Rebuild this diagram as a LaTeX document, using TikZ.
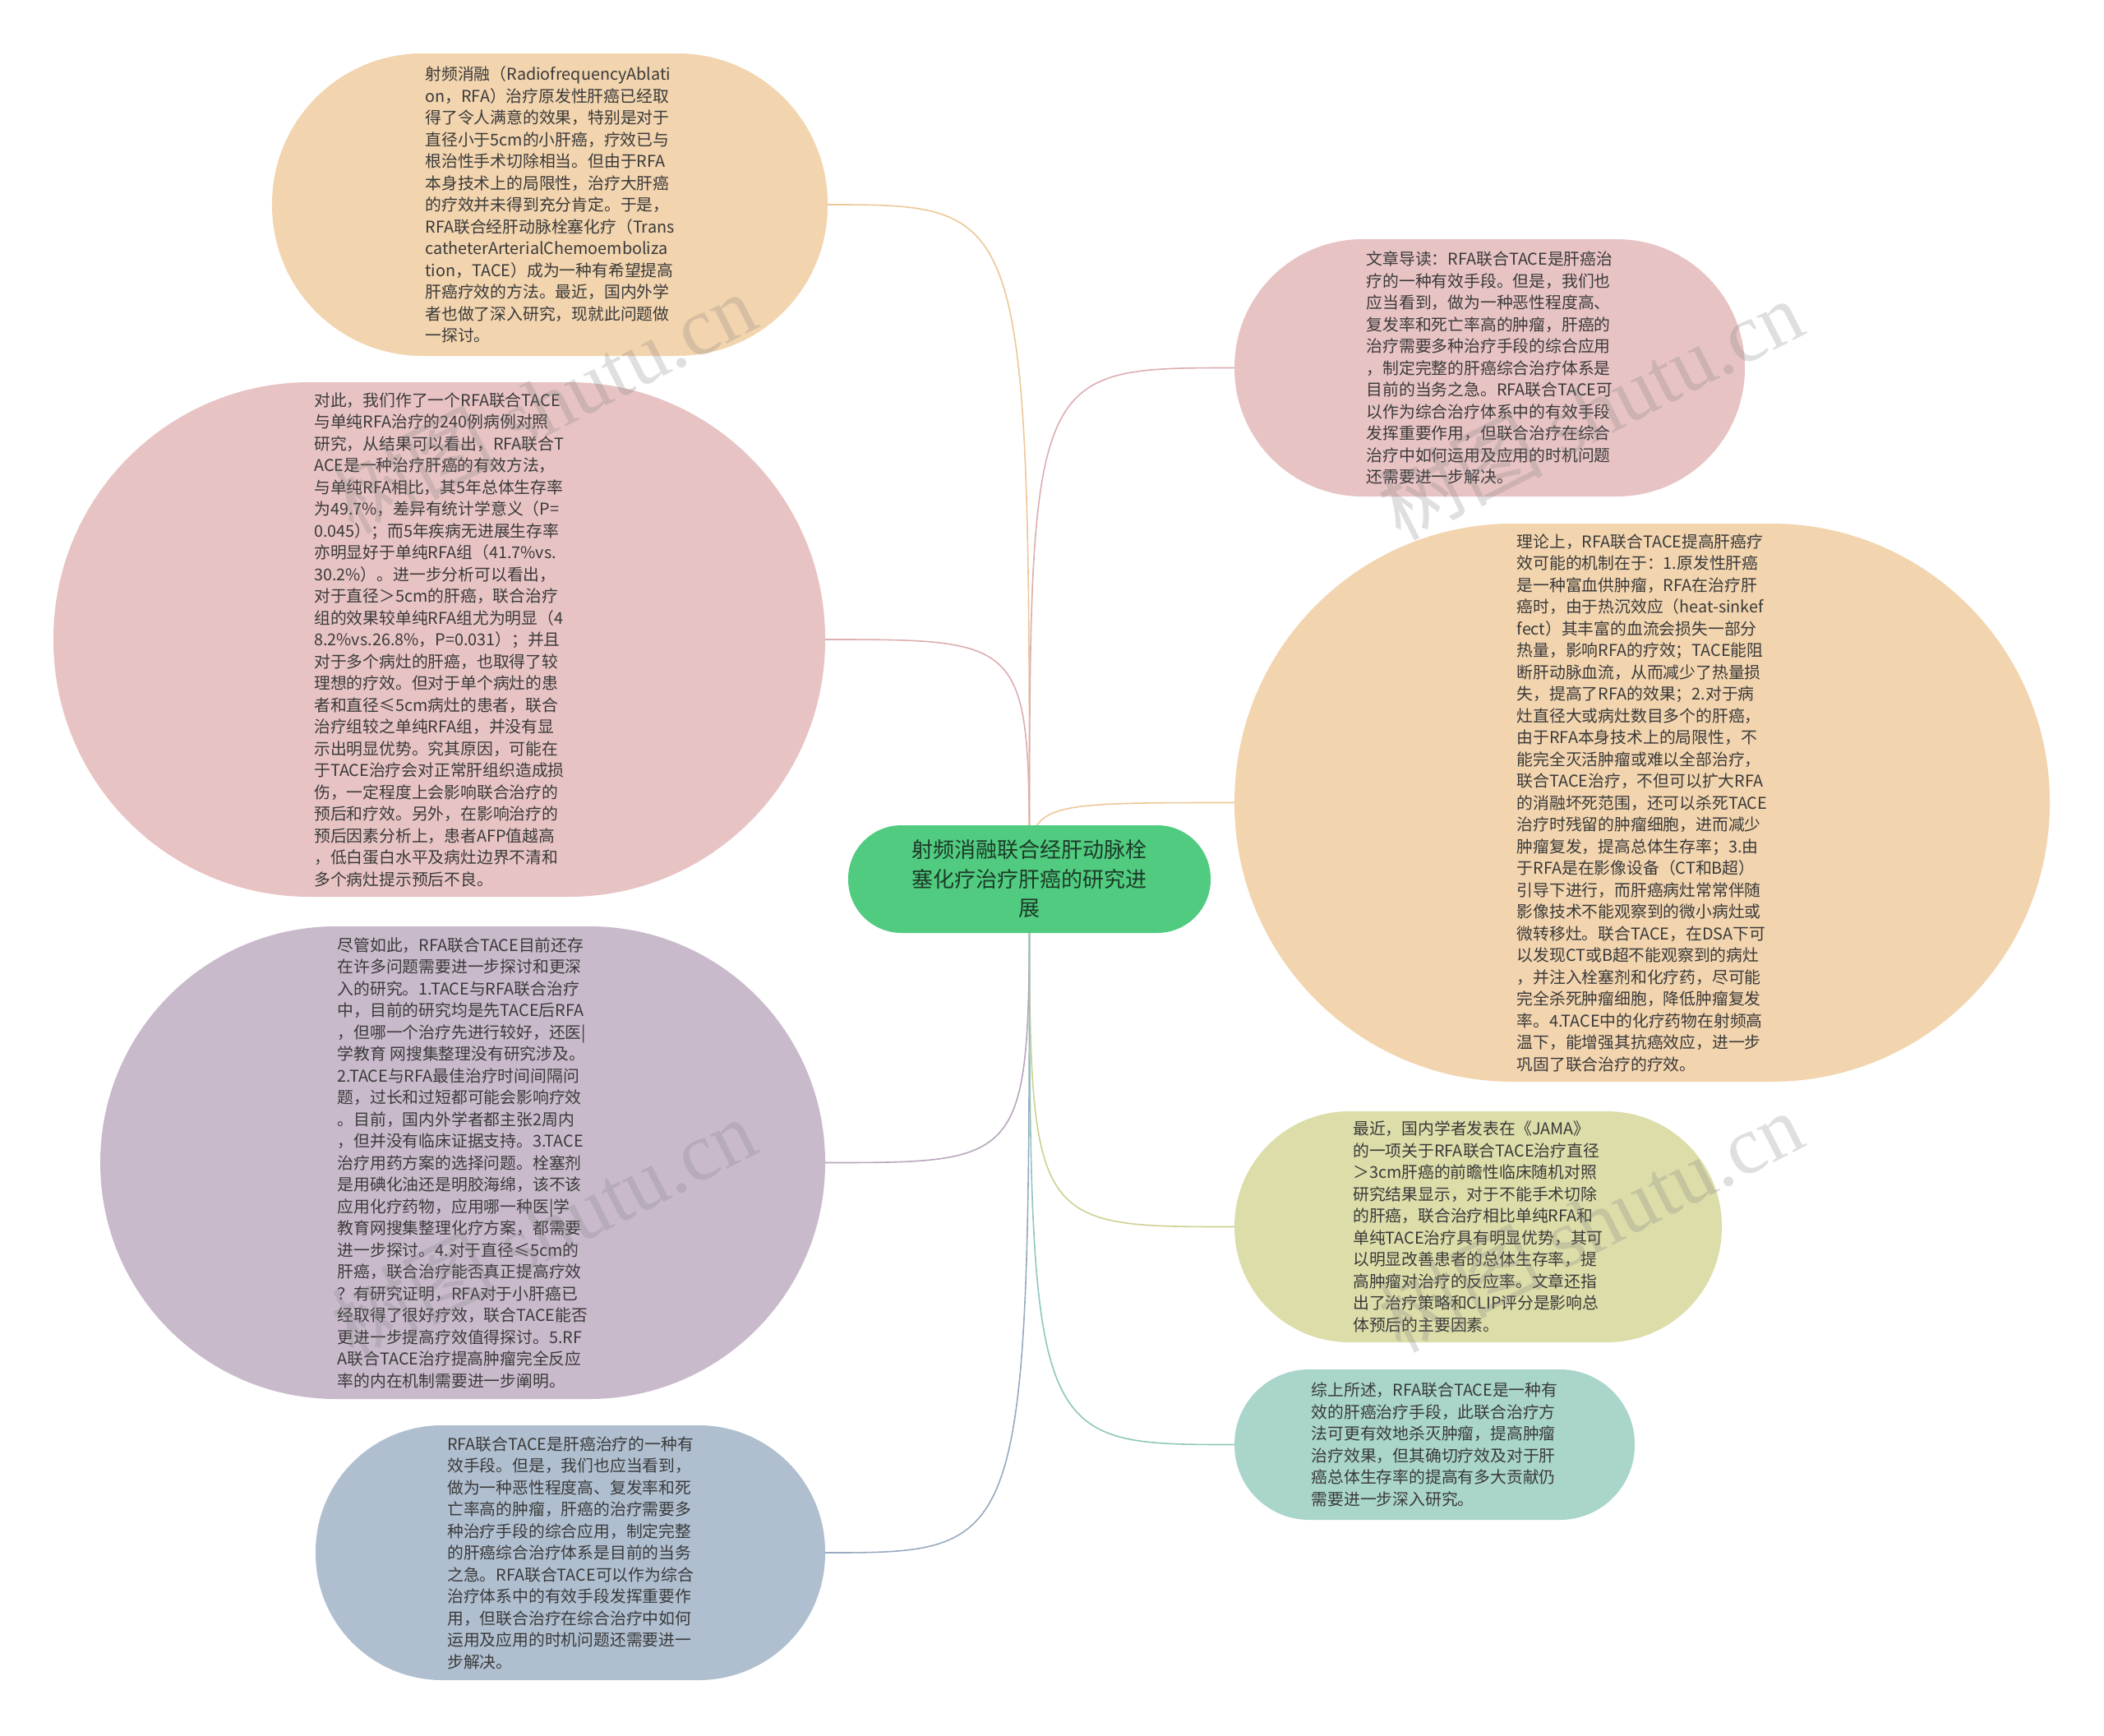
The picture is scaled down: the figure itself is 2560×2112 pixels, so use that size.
\documentclass[tikz,border=0pt]{standalone}
\usepackage{fontspec}
\setmainfont{Noto Sans CJK SC}
\newfontfamily\wmserif{Liberation Serif}
\newfontfamily\wmcjk{Noto Sans CJK SC}
\usetikzlibrary{backgrounds}
\definecolor{cOrange}{HTML}{F2D4AE}
\definecolor{cPink}{HTML}{E8C3C4}
\definecolor{cPurple}{HTML}{C9BACB}
\definecolor{cBlue}{HTML}{B0BFD0}
\definecolor{cGreen}{HTML}{50CB80}
\definecolor{cYellow}{HTML}{DCDDA9}
\definecolor{cTeal}{HTML}{A9D5CB}
\definecolor{eOrange}{HTML}{EDC898}
\definecolor{ePink}{HTML}{DDAEB0}
\definecolor{ePurple}{HTML}{B9A6BC}
\definecolor{eBlue}{HTML}{98AAC0}
\definecolor{eYellow}{HTML}{CFD092}
\definecolor{eTeal}{HTML}{8FC8BB}
\definecolor{txt}{HTML}{3A3A3A}
\definecolor{ctxt}{HTML}{1D3A27}
\tikzset{
  bubble/.style={fill=#1, draw=none, inner sep=0pt, align=left, text=txt,
    font=\fontsize{19.8}{26.5}\selectfont},
  rootbox/.style={fill=cGreen, draw=none, inner sep=0pt, align=center, text=ctxt,
    font=\fontsize{26}{35.5}\selectfont},
  link/.style={draw=#1, line width=1.6pt},
  wmark/.style={text=gray, opacity=0.25, rotate=27, font=\fontsize{100}{100}\selectfont}
}
\begin{document}
\begin{tikzpicture}[x=1pt,y=-1pt]
\useasboundingbox (0,0) rectangle (2560,2112);

\node[rootbox, minimum width=441pt, minimum height=131pt, rounded corners=65pt] (C) at (1252.5,1069.5)
{射频消融联合经肝动脉栓\\塞化疗治疗肝癌的研究进\\展};

\node[bubble=cOrange, minimum width=676pt, minimum height=368pt, rounded corners=183pt] (TL) at (669,249)
{射频消融（RadiofrequencyAblati\\on，RFA）治疗原发性肝癌已经取\\得了令人满意的效果，特别是对于\\直径小于5cm的小肝癌，疗效已与\\根治性手术切除相当。但由于RFA\\本身技术上的局限性，治疗大肝癌\\的疗效并未得到充分肯定。于是，\\RFA联合经肝动脉栓塞化疗（Trans\\catheterArterialChemoemboliza\\tion，TACE）成为一种有希望提高\\肝癌疗效的方法。最近，国内外学\\者也做了深入研究，现就此问题做\\一探讨。};

\node[bubble=cPink, minimum width=939pt, minimum height=626pt, rounded corners=312pt] (LP) at (534.5,778)
{对此，我们作了一个RFA联合TACE\\与单纯RFA治疗的240例病例对照\\研究，从结果可以看出，RFA联合T\\ACE是一种治疗肝癌的有效方法，\\与单纯RFA相比，其5年总体生存率\\为49.7\%，差异有统计学意义（P=\\0.045）；而5年疾病无进展生存率\\亦明显好于单纯RFA组（41.7\%vs.\\30.2\%）。进一步分析可以看出，\\对于直径＞5cm的肝癌，联合治疗\\组的效果较单纯RFA组尤为明显（4\\8.2\%vs.26.8\%，P=0.031）；并且\\对于多个病灶的肝癌，也取得了较\\理想的疗效。但对于单个病灶的患\\者和直径≤5cm病灶的患者，联合\\治疗组较之单纯RFA组，并没有显\\示出明显优势。究其原因，可能在\\于TACE治疗会对正常肝组织造成损\\伤，一定程度上会影响联合治疗的\\预后和疗效。另外，在影响治疗的\\预后因素分析上，患者AFP值越高\\，低白蛋白水平及病灶边界不清和\\多个病灶提示预后不良。};

\node[bubble=cPurple, minimum width=882pt, minimum height=575pt, rounded corners=287pt] (PU) at (563,1414.5)
{尽管如此，RFA联合TACE目前还存\\在许多问题需要进一步探讨和更深\\入的研究。1.TACE与RFA联合治疗\\中，目前的研究均是先TACE后RFA\\，但哪一个治疗先进行较好，还医|\\学教育 网搜集整理没有研究涉及。\\2.TACE与RFA最佳治疗时间间隔问\\题，过长和过短都可能会影响疗效\\。目前，国内外学者都主张2周内\\，但并没有临床证据支持。3.TACE\\治疗用药方案的选择问题。栓塞剂\\是用碘化油还是明胶海绵，该不该\\应用化疗药物，应用哪一种医|学\\教育网搜集整理化疗方案，都需要\\进一步探讨。4.对于直径≤5cm的\\肝癌，联合治疗能否真正提高疗效\\？有研究证明，RFA对于小肝癌已\\经取得了很好疗效，联合TACE能否\\更进一步提高疗效值得探讨。5.RF\\A联合TACE治疗提高肿瘤完全反应\\率的内在机制需要进一步阐明。};

\node[bubble=cBlue, minimum width=620pt, minimum height=310pt, rounded corners=154pt] (BL) at (694,1889)
{RFA联合TACE是肝癌治疗的一种有\\效手段。但是，我们也应当看到，\\做为一种恶性程度高、复发率和死\\亡率高的肿瘤，肝癌的治疗需要多\\种治疗手段的综合应用，制定完整\\的肝癌综合治疗体系是目前的当务\\之急。RFA联合TACE可以作为综合\\治疗体系中的有效手段发挥重要作\\用，但联合治疗在综合治疗中如何\\运用及应用的时机问题还需要进一\\步解决。};

\node[bubble=cPink, minimum width=621pt, minimum height=313pt, rounded corners=156pt] (RP) at (1812.5,447.5)
{文章导读：RFA联合TACE是肝癌治\\疗的一种有效手段。但是，我们也\\应当看到，做为一种恶性程度高、\\复发率和死亡率高的肿瘤，肝癌的\\治疗需要多种治疗手段的综合应用\\，制定完整的肝癌综合治疗体系是\\目前的当务之急。RFA联合TACE可\\以作为综合治疗体系中的有效手段\\发挥重要作用，但联合治疗在综合\\治疗中如何运用及应用的时机问题\\还需要进一步解决。};

\node[bubble=cOrange, minimum width=992pt, minimum height=679pt, rounded corners=339pt] (RO) at (1998,976.5)
{理论上，RFA联合TACE提高肝癌疗\\效可能的机制在于：1.原发性肝癌\\是一种富血供肿瘤，RFA在治疗肝\\癌时，由于热沉效应（heat-sinkef\\fect）其丰富的血流会损失一部分\\热量，影响RFA的疗效；TACE能阻\\断肝动脉血流，从而减少了热量损\\失，提高了RFA的效果；2.对于病\\灶直径大或病灶数目多个的肝癌，\\由于RFA本身技术上的局限性，不\\能完全灭活肿瘤或难以全部治疗，\\联合TACE治疗，不但可以扩大RFA\\的消融坏死范围，还可以杀死TACE\\治疗时残留的肿瘤细胞，进而减少\\肿瘤复发，提高总体生存率；3.由\\于RFA是在影像设备（CT和B超）\\引导下进行，而肝癌病灶常常伴随\\影像技术不能观察到的微小病灶或\\微转移灶。联合TACE，在DSA下可\\以发现CT或B超不能观察到的病灶\\，并注入栓塞剂和化疗药，尽可能\\完全杀死肿瘤细胞，降低肿瘤复发\\率。4.TACE中的化疗药物在射频高\\温下，能增强其抗癌效应，进一步\\巩固了联合治疗的疗效。};

\node[bubble=cYellow, minimum width=593pt, minimum height=281pt, rounded corners=140pt] (YE) at (1798.5,1492.5)
{最近，国内学者发表在《JAMA》\\的一项关于RFA联合TACE治疗直径\\＞3cm肝癌的前瞻性临床随机对照\\研究结果显示，对于不能手术切除\\的肝癌，联合治疗相比单纯RFA和\\单纯TACE治疗具有明显优势，其可\\以明显改善患者的总体生存率，提\\高肿瘤对治疗的反应率。文章还指\\出了治疗策略和CLIP评分是影响总\\体预后的主要因素。};

\node[bubble=cTeal, minimum width=487pt, minimum height=183pt, rounded corners=91pt] (TE) at (1745.5,1757.5)
{综上所述，RFA联合TACE是一种有\\效的肝癌治疗手段，此联合治疗方\\法可更有效地杀灭肿瘤，提高肿瘤\\治疗效果，但其确切疗效及对于肝\\癌总体生存率的提高有多大贡献仍\\需要进一步深入研究。};

\begin{scope}[on background layer]
\fill[white] (0,0) rectangle (2560,2112);
\draw[link=eOrange] (C.center) .. controls (C.center |- TL.east) .. (TL.east);
\draw[link=ePink] (C.center) .. controls (C.center |- LP.east) .. (LP.east);
\draw[link=ePurple] (C.center) .. controls (C.center |- PU.east) .. (PU.east);
\draw[link=eBlue] (C.center) .. controls (C.center |- BL.east) .. (BL.east);
\draw[link=ePink] (C.center) .. controls (C.center |- RP.west) .. (RP.west);
\draw[link=eOrange] (C.center) .. controls (C.center |- RO.west) .. (RO.west);
\draw[link=eYellow] (C.center) .. controls (C.center |- YE.west) .. (YE.west);
\draw[link=eTeal] (C.center) .. controls (C.center |- TE.west) .. (TE.west);
\end{scope}

\node[wmark] (W1) at (661,490) {{\wmcjk 树图} {\wmserif shutu.cn}};
\node[wmark] (W2) at (661,1494) {{\wmcjk 树图} {\wmserif shutu.cn}};
\node[wmark] (W3) at (1935,498) {{\wmcjk 树图} {\wmserif shutu.cn}};
\node[wmark] (W4) at (1935,1486) {{\wmcjk 树图} {\wmserif shutu.cn}};
\end{tikzpicture}
\end{document}
